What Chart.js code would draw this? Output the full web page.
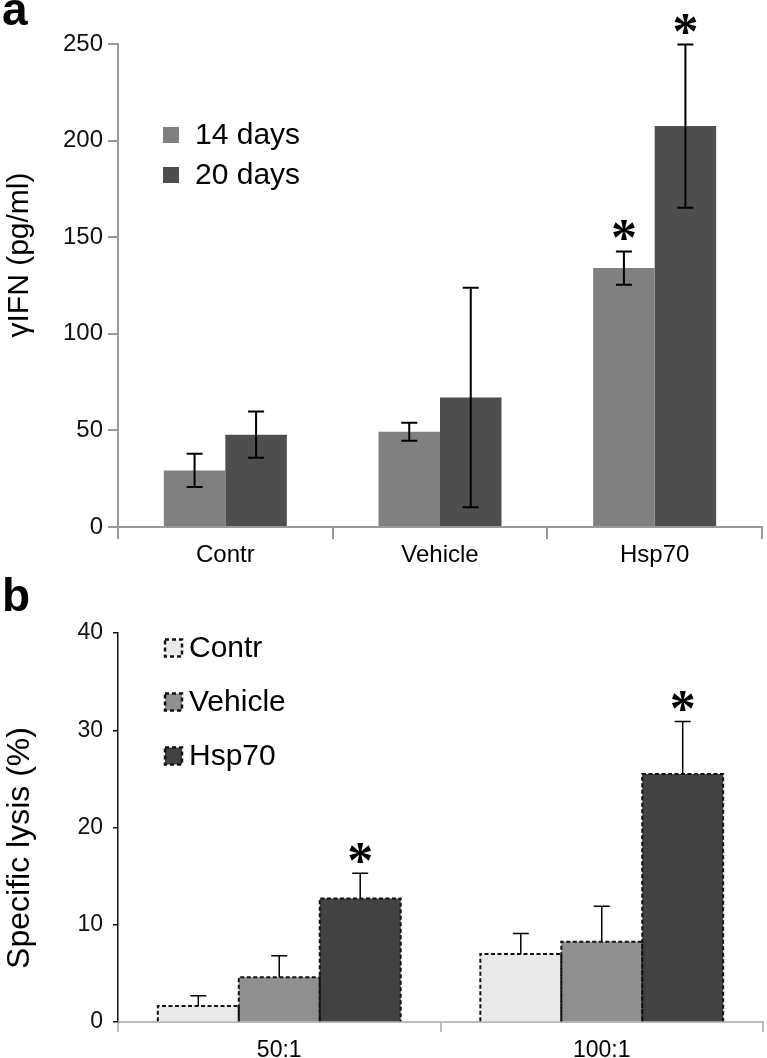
<!DOCTYPE html>
<html lang="en">
<head>
<meta charset="UTF-8">
<title>γIFN and specific lysis</title>
<script src="https://cdn.jsdelivr.net/npm/chart.js"></script>
<style>
  body { margin: 0; background: #fff; width: 767px; height: 1058px; position: relative; overflow: hidden; font-family: "Liberation Sans", Arial, sans-serif; }
  canvas { position: absolute; left: 0; }
  #chartA { top: 0; }
  #chartB { top: 575px; }
  .panel-letter { position: absolute; left: 2px; font-weight: bold; font-size: 46px; line-height: 46px; color: #000; }
</style>
</head>
<body>
<canvas id="chartA" width="767" height="575"></canvas>
<canvas id="chartB" width="767" height="483"></canvas>
<div class="panel-letter" style="top:-14px">a</div>
<div class="panel-letter" style="top:572px">b</div>

<script>
// panel a - gamma IFN (pg/ml)
const groupsA = ['Contr', 'Vehicle', 'Hsp70'];
const days14 = [29.3, 49.3, 134];
const days14Err = [8.6, 4.7, 8.6];
const days20 = [47.8, 67, 207.5];
const days20Err = [12, 56.8, 42.2];
const starredA = [false, false, true];
const ticksA = [0, 50, 100, 150, 200, 250];

// panel b - specific lysis (%)
const ratiosB = ['50:1', '100:1'];
const contrLysis = [1.65, 7.0];
const contrLysisErr = [1.05, 2.1];
const vehicleLysis = [4.6, 8.25];
const vehicleLysisErr = [2.2, 3.65];
const hspLysis = [12.7, 25.5];
const hspLysisErr = [2.6, 5.4];
const starredB = [true, true];
const ticksB = [0, 10, 20, 30, 40];

const FONT = '"Liberation Sans", Arial, sans-serif';

// error bars + significance stars
const errorBarPlugin = {
  id: 'errorBars',
  afterDatasetsDraw(chart, args, opts) {
    const ctx = chart.ctx;
    const y = chart.scales.y;
    chart.data.datasets.forEach((ds, i) => {
      const meta = chart.getDatasetMeta(i);
      meta.data.forEach((bar, j) => {
        const v = ds.data[j], e = ds.errors[j];
        const top = y.getPixelForValue(v + e);
        const bottom = opts.upperOnly ? bar.y : y.getPixelForValue(v - e);
        ctx.save();
        ctx.strokeStyle = '#000';
        ctx.lineWidth = opts.lineWidth;
        ctx.beginPath();
        ctx.moveTo(bar.x, top);
        ctx.lineTo(bar.x, bottom);
        ctx.moveTo(bar.x - opts.cap, top);
        ctx.lineTo(bar.x + opts.cap, top);
        if (!opts.upperOnly) {
          ctx.moveTo(bar.x - opts.cap, bottom);
          ctx.lineTo(bar.x + opts.cap, bottom);
        }
        ctx.stroke();
        if (ds.stars && ds.stars[j]) {
          ctx.font = 'bold 52px "Liberation Serif", serif';
          ctx.fillStyle = '#000';
          ctx.textAlign = 'center';
          ctx.textBaseline = 'alphabetic';
          const m = ctx.measureText('*');
          const cy = top - opts.starGap;
          ctx.fillText('*', bar.x, cy + (m.actualBoundingBoxAscent - m.actualBoundingBoxDescent) / 2);
        }
        ctx.restore();
      });
    });
  }
};

// dashed outline on the lysis bars (bar elements only fill their borders)
const dashedBarsPlugin = {
  id: 'dashedBars',
  afterDatasetsDraw(chart) {
    const ctx = chart.ctx;
    chart.data.datasets.forEach((ds, i) => {
      chart.getDatasetMeta(i).data.forEach(bar => {
        const l = bar.x - bar.width / 2, r = bar.x + bar.width / 2;
        ctx.save();
        ctx.strokeStyle = '#111';
        ctx.lineWidth = 2;
        ctx.setLineDash([4, 2.5]);
        ctx.beginPath();
        ctx.moveTo(l, bar.base);
        ctx.lineTo(l, bar.y);
        ctx.lineTo(r, bar.y);
        ctx.lineTo(r, bar.base);
        ctx.stroke();
        ctx.restore();
      });
    });
  }
};

const boxLegendPlugin = {
  id: 'boxLegend',
  afterDraw(chart, args, o) {
    const ctx = chart.ctx;
    chart.data.datasets.forEach((ds, i) => {
      const cy = o.y + i * o.gap;
      ctx.save();
      ctx.fillStyle = ds.backgroundColor;
      ctx.fillRect(o.x, cy - o.size / 2, o.size, o.size);
      if (o.dashed) {
        ctx.strokeStyle = '#111';
        ctx.lineWidth = 2.5;
        ctx.setLineDash([4, 3]);
        ctx.strokeRect(o.x, cy - o.size / 2, o.size, o.size);
      }
      ctx.setLineDash([]);
      ctx.fillStyle = '#000';
      ctx.font = o.font;
      ctx.textAlign = 'left';
      ctx.textBaseline = 'middle';
      ctx.fillText(ds.label, o.textX, cy + 1);
      ctx.restore();
    });
  }
};

const sideTitlePlugin = {
  id: 'sideTitle',
  afterDraw(chart, args, o) {
    const ctx = chart.ctx;
    ctx.save();
    ctx.translate(o.x, o.y);
    ctx.rotate(-Math.PI / 2);
    ctx.font = o.font;
    ctx.fillStyle = '#000';
    ctx.textAlign = 'center';
    ctx.textBaseline = 'middle';
    ctx.fillText(o.text, 0, 0);
    ctx.restore();
  }
};

new Chart(document.getElementById('chartA'), {
  type: 'bar',
  data: {
    labels: groupsA,
    datasets: [
      { label: '14 days', data: days14, errors: days14Err, stars: starredA, backgroundColor: '#808080' },
      { label: '20 days', data: days20, errors: days20Err, stars: starredA, backgroundColor: '#4e4e4e' }
    ]
  },
  options: {
    responsive: false,
    animation: false,
    layout: { padding: { top: 44, left: 0, right: 5, bottom: 0 } },
    datasets: { bar: { categoryPercentage: 0.573, barPercentage: 1 } },
    scales: {
      x: {
        afterFit: s => { s.height = 48; },
        grid: { drawOnChartArea: false, tickLength: 12, color: '#999', lineWidth: 2, offset: true },
        border: { color: '#999', width: 2 },
        ticks: { color: '#000', padding: 2, font: { family: FONT, size: 24 } }
      },
      y: {
        min: 0, max: 250,
        afterFit: s => { s.width = 118; },
        afterBuildTicks: s => { s.ticks = ticksA.map(v => ({ value: v })); },
        grid: { drawOnChartArea: false, tickLength: 10, color: '#999', lineWidth: 2 },
        border: { color: '#999', width: 2 },
        ticks: { color: '#111', padding: 5, font: { family: FONT, size: 24 } }
      }
    },
    plugins: {
      legend: { display: false },
      tooltip: { enabled: false },
      errorBars: { lineWidth: 2, cap: 8, upperOnly: false, starGap: 21 },
      boxLegend: { x: 163, y: 135, gap: 40, size: 16, textX: 195, font: '30px ' + FONT },
      sideTitle: { text: 'γIFN (pg/ml)', x: 20, y: 255, font: '30px ' + FONT }
    }
  },
  plugins: [errorBarPlugin, boxLegendPlugin, sideTitlePlugin]
});

new Chart(document.getElementById('chartB'), {
  type: 'bar',
  data: {
    labels: ratiosB,
    datasets: [
      { label: 'Contr', data: contrLysis, errors: contrLysisErr, backgroundColor: '#e9e9e9' },
      { label: 'Vehicle', data: vehicleLysis, errors: vehicleLysisErr, backgroundColor: '#8f8f8f' },
      { label: 'Hsp70', data: hspLysis, errors: hspLysisErr, stars: starredB, backgroundColor: '#424242' }
    ]
  },
  options: {
    responsive: false,
    animation: false,
    layout: { padding: { top: 58, left: 0, right: 4, bottom: 0 } },
    datasets: { bar: { categoryPercentage: 0.753, barPercentage: 1 } },
    scales: {
      x: {
        afterFit: s => { s.height = 36; },
        grid: { drawOnChartArea: false, tickLength: 10, color: '#bbb', lineWidth: 2, offset: true },
        border: { color: '#bbb', width: 2 },
        ticks: { color: '#000', padding: 5, font: { family: FONT, size: 23 } }
      },
      y: {
        min: 0, max: 40,
        afterFit: s => { s.width = 118; },
        afterBuildTicks: s => { s.ticks = ticksB.map(v => ({ value: v })); },
        grid: { drawOnChartArea: false, tickLength: 5, color: '#111', lineWidth: 1.5 },
        border: { color: '#111', width: 1.5 },
        ticks: { color: '#111', padding: 10, font: { family: FONT, size: 23 } }
      }
    },
    plugins: {
      legend: { display: false },
      tooltip: { enabled: false },
      errorBars: { lineWidth: 1.5, cap: 8, upperOnly: true, starGap: 20 },
      boxLegend: { x: 165, y: 73, gap: 54, size: 17, textX: 189, font: '30px ' + FONT, dashed: true },
      sideTitle: { text: 'Specific lysis (%)', x: 20, y: 273, font: '32px ' + FONT }
    }
  },
  plugins: [dashedBarsPlugin, errorBarPlugin, boxLegendPlugin, sideTitlePlugin]
});
</script>
</body>
</html>
